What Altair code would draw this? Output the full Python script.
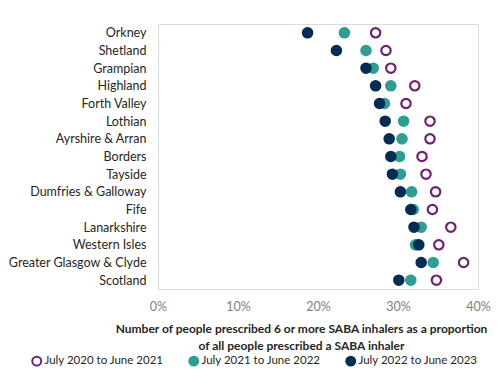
import altair as alt
import pandas as pd

regions = ["Orkney", "Shetland", "Grampian", "Highland", "Forth Valley", "Lothian",
           "Ayrshire & Arran", "Borders", "Tayside", "Dumfries & Galloway", "Fife",
           "Lanarkshire", "Western Isles", "Greater Glasgow & Clyde", "Scotland"]
periods = ["July 2020 to June 2021", "July 2021 to June 2022", "July 2022 to June 2023"]
p2021 = [27.2, 28.5, 29.1, 32.1, 31.0, 34.0, 34.0, 33.0, 33.5, 34.7, 34.3, 36.6, 35.1, 38.2, 34.8]
p2022 = [23.3, 26.0, 26.9, 29.1, 28.3, 30.7, 30.5, 30.2, 30.3, 31.7, 31.9, 32.9, 32.2, 34.4, 31.6]
p2023 = [18.7, 22.3, 26.0, 27.2, 27.7, 28.4, 28.9, 29.1, 29.3, 30.3, 31.6, 32.0, 32.6, 32.9, 30.1]
stroke_colors = ["#6E2272", "#2E9E93", "#032D52"]
fill_colors = ["#ffffff", "#2E9E93", "#032D52"]

rows = []
for per, vals in zip(periods, [p2021, p2022, p2023]):
    for r, v in zip(regions, vals):
        rows.append({"region": r, "period": per, "value": v / 100})
df = pd.DataFrame(rows)

FONT = "Lato"

def make_legend():
    return alt.Legend(title=None, orient="none", direction="horizontal",
                      legendX=-127, legendY=331, columns=3,
                      labelFontSize=11.5, labelFont=FONT, labelColor="#262626",
                      symbolSize=80, symbolStrokeWidth=2, columnPadding=21,
                      labelOffset=2)

chart = alt.Chart(df).mark_point(size=88, strokeWidth=2.2, opacity=1, filled=False).encode(
    x=alt.X("value:Q",
            scale=alt.Scale(domain=[0, 0.4], nice=False),
            axis=alt.Axis(values=[0, 0.1, 0.2, 0.3, 0.4], format=".0%", domain=False,
                          ticks=False, grid=False, labelPadding=11, labelColor="#7f7f7f",
                          labelFontSize=12.5, labelFont=FONT, labelFlush=False,
                          title=["Number of people prescribed 6 or more SABA inhalers as a proportion",
                                 "of all people prescribed a SABA inhaler"],
                          titleFont=FONT, titleFontSize=12, titleFontWeight="bold",
                          titleColor="#262626", titleAnchor="start", titleAlign="center",
                          titleX=143, titleY=34, titleLineHeight=17, titleBaseline="top")),
    y=alt.Y("region:N", sort=regions,
            axis=alt.Axis(title=None, ticks=False, grid=False, domainColor="#d9d9d9",
                          domainWidth=1, labelPadding=12, labelFontSize=12.5,
                          labelFont=FONT, labelColor="#262626")),
    stroke=alt.Stroke("period:N", sort=periods,
                      scale=alt.Scale(domain=periods, range=stroke_colors),
                      legend=make_legend()),
    fill=alt.Fill("period:N", sort=periods,
                  scale=alt.Scale(domain=periods, range=fill_colors),
                  legend=make_legend()),
).properties(
    width=320, height=265,
    autosize=alt.AutoSizeParams(type="none"),
    padding={"left": 150, "top": 16, "right": 14, "bottom": 79},
).configure_view(stroke=None).configure(background="white")

chart.save("out.html", embed_options={"renderer": "svg", "actions": False})
